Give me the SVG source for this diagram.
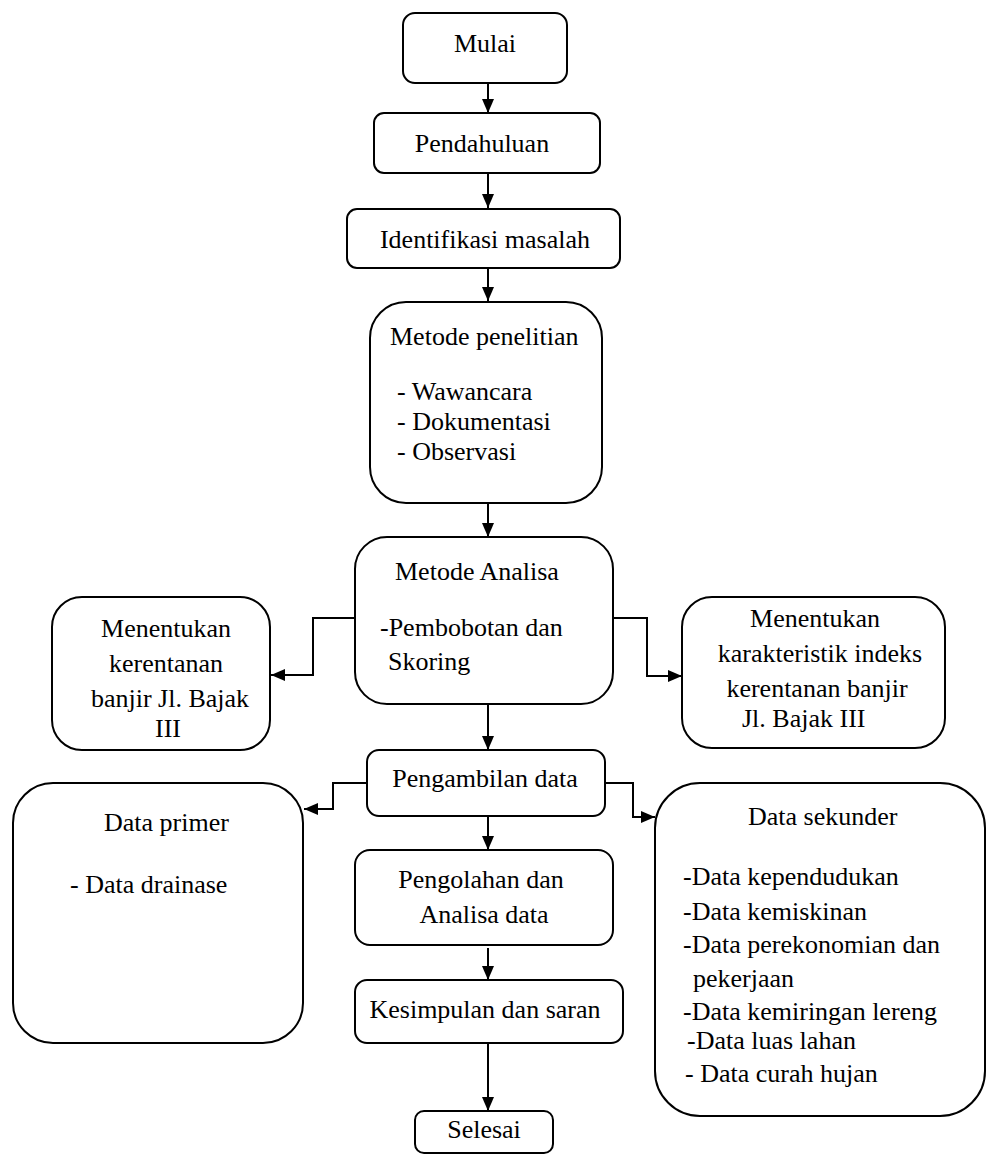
<svg xmlns="http://www.w3.org/2000/svg" width="986" height="1160" viewBox="0 0 986 1160">
<style>
.box{fill:#fff;stroke:#000;stroke-width:2}
.t{font-family:"Liberation Serif","Times New Roman",serif;font-size:26px;fill:#000}
.m{text-anchor:middle}
.c{fill:none;stroke:#000;stroke-width:2}
</style>
<defs>
<marker id="ah" markerUnits="userSpaceOnUse" markerWidth="14" markerHeight="12" refX="14" refY="6" orient="auto">
<path d="M0,0 L14,6 L0,12 z" fill="#000"/>
</marker>
</defs>
<rect width="986" height="1160" fill="#fff"/>
<g id="connectors">
<path class="c" d="M488,83 V113" marker-end="url(#ah)"/>
<path class="c" d="M488,173 V208" marker-end="url(#ah)"/>
<path class="c" d="M488,268 V301" marker-end="url(#ah)"/>
<path class="c" d="M488,503 V537" marker-end="url(#ah)"/>
<path class="c" d="M355,618 H313 V675 H271" marker-end="url(#ah)"/>
<path class="c" d="M613,618 H647 V676 H682" marker-end="url(#ah)"/>
<path class="c" d="M488,704 V750" marker-end="url(#ah)"/>
<path class="c" d="M367,783 H333 V809 H304" marker-end="url(#ah)"/>
<path class="c" d="M605,783 H633 V817 H655" marker-end="url(#ah)"/>
<path class="c" d="M488,816 V850" marker-end="url(#ah)"/>
<path class="c" d="M488,948 V980" marker-end="url(#ah)"/>
<path class="c" d="M488,1043 V1111" marker-end="url(#ah)"/>
</g>
<g id="mulai">
<rect class="box" x="403" y="13" width="164" height="70" rx="12"/>
<text class="t m" x="485" y="52">Mulai</text>
</g>
<g id="pendahuluan">
<rect class="box" x="374" y="113" width="226" height="60" rx="10"/>
<text class="t m" x="482" y="152">Pendahuluan</text>
</g>
<g id="identifikasi">
<rect class="box" x="347" y="209" width="273" height="59" rx="10"/>
<text class="t m" x="485" y="248">Identifikasi masalah</text>
</g>
<g id="metode-penelitian">
<rect class="box" x="370" y="302" width="232" height="201" rx="36"/>
<text class="t" x="390" y="345">Metode penelitian</text>
<text class="t" x="397" y="400">- Wawancara</text>
<text class="t" x="397" y="430">-  Dokumentasi</text>
<text class="t" x="397" y="460">- Observasi</text>
</g>
<g id="metode-analisa">
<rect class="box" x="355" y="537" width="258" height="167" rx="32"/>
<text class="t" x="395" y="580">Metode Analisa</text>
<text class="t" x="380" y="636">-Pembobotan dan</text>
<text class="t" x="388" y="670">Skoring</text>
</g>
<g id="kerentanan">
<rect class="box" x="52" y="597" width="218" height="153" rx="30"/>
<text class="t m" x="166" y="637">Menentukan</text>
<text class="t m" x="166" y="672">kerentanan</text>
<text class="t m" x="170" y="707">banjir  Jl. Bajak</text>
<text class="t m" x="168" y="737">III</text>
</g>
<g id="karakteristik">
<rect class="box" x="682" y="597" width="263" height="151" rx="30"/>
<text class="t m" x="815" y="627">Menentukan</text>
<text class="t m" x="820" y="662">karakteristik indeks</text>
<text class="t m" x="817" y="697">kerentanan banjir</text>
<text class="t" x="742" y="727">Jl. Bajak III</text>
</g>
<g id="pengambilan">
<rect class="box" x="367" y="750" width="238" height="66" rx="12"/>
<text class="t m" x="485" y="787">Pengambilan data</text>
</g>
<g id="data-primer">
<rect class="box" x="13" y="783" width="290" height="260" rx="40"/>
<text class="t" x="104" y="831">Data primer</text>
<text class="t" x="70" y="893">- Data drainase</text>
</g>
<g id="pengolahan">
<rect class="box" x="355" y="850" width="258" height="95" rx="15"/>
<text class="t m" x="481" y="888">Pengolahan dan</text>
<text class="t m" x="484" y="923">Analisa data</text>
</g>
<g id="kesimpulan">
<rect class="box" x="355" y="980" width="268" height="63" rx="12"/>
<text class="t m" x="485" y="1018">Kesimpulan dan saran</text>
</g>
<g id="selesai">
<rect class="box" x="415" y="1111" width="138" height="42" rx="9"/>
<text class="t m" x="484" y="1138">Selesai</text>
</g>
<g id="data-sekunder">
<rect class="box" x="655" y="783" width="330" height="333" rx="45"/>
<text class="t" x="748" y="825">Data sekunder</text>
<text class="t" x="683" y="885">-Data kependudukan</text>
<text class="t" x="683" y="920">-Data kemiskinan</text>
<text class="t" x="683" y="953">-Data perekonomian dan</text>
<text class="t" x="693" y="987">pekerjaan</text>
<text class="t" x="683" y="1020">-Data kemiringan lereng</text>
<text class="t" x="687" y="1049">-Data luas lahan</text>
<text class="t" x="685" y="1082">- Data curah hujan</text>
</g>
</svg>
